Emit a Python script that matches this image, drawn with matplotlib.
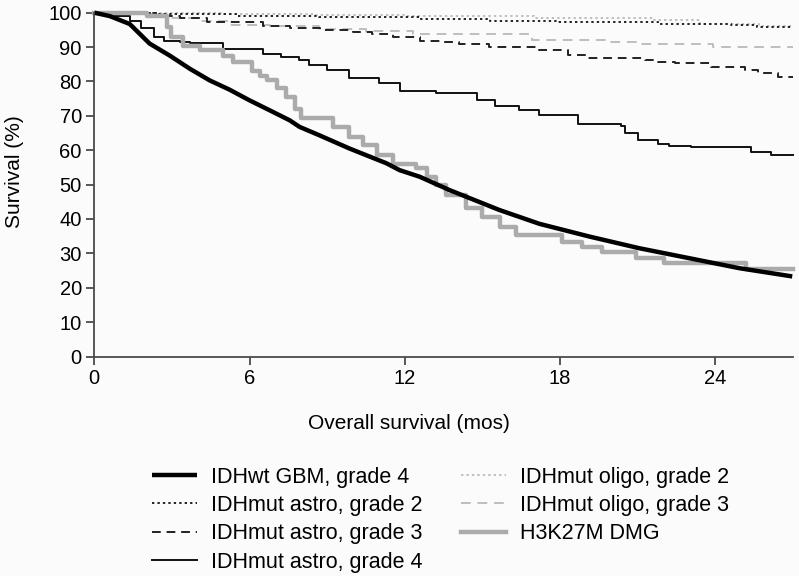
import matplotlib
matplotlib.use("Agg")
import matplotlib.pyplot as plt

plt.rcParams['font.family'] = ['Liberation Sans', 'DejaVu Sans']

# Kaplan-Meier curves (months, survival %)
gbm_t = [0, 0.6, 1.37, 2.14, 2.92, 3.69, 4.46, 5.23, 6.0, 6.78, 7.55, 7.93, 8.71,
         9.86, 11.29, 11.8, 12.57, 13.73, 15.66, 17.2, 19.13, 21.06, 22.99, 24.92, 26.97]
gbm_s = [100, 99.0, 96.7, 91.0, 87.5, 83.7, 80.3, 77.6, 74.5, 71.6, 68.7, 66.8, 64.3,
         60.5, 56.2, 54.2, 52.3, 48.4, 42.6, 38.6, 34.9, 31.5, 28.6, 25.7, 23.3]

astro2_t = [0, 2.4, 5.5, 8.7, 12.6, 15.3, 17.9, 21.8, 24.6, 25.6, 27]
astro2_s = [100, 99.6, 99.1, 98.6, 98.1, 97.5, 97.2, 96.8, 96.5, 95.7, 95.7]

astro3_t = [0, 2.4, 3.3, 4.34, 6.51, 7.55, 8.71, 9.98, 10.75, 11.53, 12.57, 13.34,
            14.1, 15.27, 17.2, 18.32, 19.09, 21.29, 21.8, 22.45, 23.84, 25.15, 25.66,
            26.43, 27]
astro3_s = [100, 99, 98.5, 97.2, 96.2, 95.5, 95, 94.3, 93.8, 92.8, 91.9, 91.4,
            90.9, 90, 89.2, 87.8, 86.8, 86.1, 85.6, 85.3, 84.3, 83.2, 82.5,
            81.4, 81.4]

astro4_t = [0, 0.8, 1.37, 1.8, 2.3, 2.7, 3.3, 3.7, 4.96, 6.51, 7.2, 7.9, 8.3, 9.0,
            9.86, 11.0, 11.8, 13.22, 14.8, 15.5, 16.4, 17.2, 18.7, 20.37, 20.52,
            21.02, 21.8, 22.2, 23.07, 25.39, 26.16, 27]
astro4_s = [100, 99, 97.7, 95.5, 93, 91.9, 91.4, 91.1, 89.3, 88.1, 87.2, 86.1, 84.7,
            83.3, 81, 79.6, 77.2, 76.5, 74.6, 72.8, 71.7, 70.3, 67.5, 67, 64.9,
            63.1, 61.7, 61.3, 61, 59.5, 58.6, 58.6]

oligo2_t = [0, 2.5, 5.0, 8.5, 12.0, 17.0, 21.6, 23.4, 25.7, 27]
oligo2_s = [100, 99.8, 99.5, 99.2, 99.0, 98.5, 97.8, 96.6, 96.0, 96.0]

oligo3_t = [0, 2.0, 2.8, 4.0, 5.2, 6.8, 8.7, 10.5, 12.3, 16.9, 19.75, 21.14, 23.9, 27]
oligo3_s = [100, 99.5, 98.5, 97.5, 96.5, 96, 95.3, 94.6, 93.8, 92.1, 91.4, 90.9, 90.1, 90.1]

dmg_t = [0, 2.03, 2.8, 2.95, 3.42, 4.07, 4.96, 5.35, 6.1, 6.4, 6.66, 7.05, 7.4, 7.75,
         8.0, 9.21, 9.86, 10.37, 10.91, 11.53, 12.45, 12.84, 13.22, 13.61, 14.38,
         15.0, 15.66, 16.31, 18.09, 18.86, 19.63, 20.95, 22.03, 25.19, 27]
dmg_s = [100, 99, 95.7, 92.8, 90.2, 89.2, 87.5, 85.6, 83, 81.7, 80.3, 78, 75.5, 72,
         69.5, 66.8, 63.9, 61.4, 58.6, 56.1, 54.7, 52.3, 49.9, 47, 43.1,
         40.7, 37.8, 35.4, 33.4, 32, 30.5, 28.6, 27.3, 25.4, 25.4]

x_ticks = [0, 6, 12, 18, 24]
y_ticks = list(range(0, 101, 10))

bg = '#fbfbfb'
light = '#bebebe'

fig = plt.figure(figsize=(7.99, 5.76), dpi=100, facecolor=bg)
ax = fig.add_axes([0.118, 0.381, 0.8745, 0.597], facecolor=bg)

ax.step(oligo2_t, oligo2_s, where='post', color=light, lw=1.4, ls=(0, (1.2, 1.6)),
        clip_on=False, label='IDHmut oligo, grade 2')
ax.step(oligo3_t, oligo3_s, where='post', color=light, lw=1.4, ls=(0, (5, 3.5)),
        clip_on=False, label='IDHmut oligo, grade 3')
ax.step(astro2_t, astro2_s, where='post', color='#222222', lw=1.4, ls=(0, (1.2, 1.6)),
        clip_on=False, label='IDHmut astro, grade 2')
ax.step(astro3_t, astro3_s, where='post', color='#222222', lw=1.4, ls=(0, (4.5, 3)),
        clip_on=False, label='IDHmut astro, grade 3')
ax.step(astro4_t, astro4_s, where='post', color='#111111', lw=1.4,
        clip_on=False, label='IDHmut astro, grade 4')
ax.step(dmg_t, dmg_s, where='post', color='#ababab', lw=3.2,
        clip_on=False, label='H3K27M DMG')
ax.plot(gbm_t, gbm_s, color='black', lw=3.2, solid_capstyle='butt',
        clip_on=False, label='IDHwt GBM, grade 4')

ax.set_xlim(0, 27)
ax.set_ylim(0, 100)
ax.set_xticks(x_ticks)
ax.set_yticks(y_ticks)
for s in ['top', 'right']:
    ax.spines[s].set_visible(False)
for s in ['left', 'bottom']:
    ax.spines[s].set_color('#4a4a4a')
    ax.spines[s].set_linewidth(1.3)
ax.tick_params(direction='out', length=6, width=1.3, color='#4a4a4a',
               labelsize=14.5, pad=3)

ax.set_xlabel('Overall survival (mos)', fontsize=15)
ax.xaxis.set_label_coords(0.45, -0.168)
ax.set_ylabel('Survival (%)', fontsize=15)
ax.yaxis.set_label_coords(-0.10, 0.537)

# legend in column order of the original
h, l = ax.get_legend_handles_labels()
order = ['IDHwt GBM, grade 4', 'IDHmut astro, grade 2', 'IDHmut astro, grade 3',
         'IDHmut astro, grade 4', 'IDHmut oligo, grade 2', 'IDHmut oligo, grade 3',
         'H3K27M DMG']
lut = dict(zip(l, h))
fig.legend([lut[k] for k in order], order, ncol=2, frameon=False,
           loc='upper left', bbox_to_anchor=(0.19, 0.19), borderpad=0,
           borderaxespad=0, fontsize=15.5, handlelength=2.1, handletextpad=0.65,
           columnspacing=1.8, labelspacing=0.34)

fig.savefig('out.png', dpi=100, facecolor=bg)
